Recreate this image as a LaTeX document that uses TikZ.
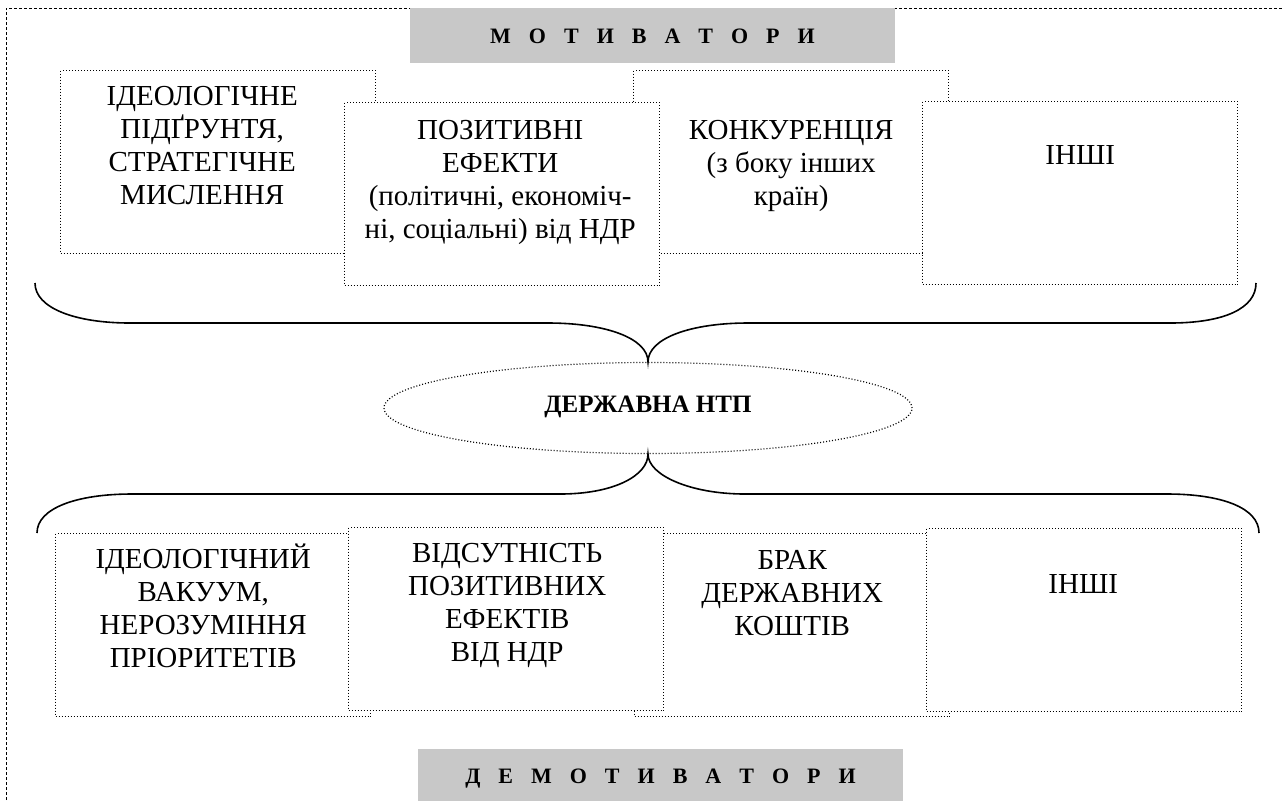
\documentclass[tikz,border=0pt]{standalone}
\usepackage{fontspec}
\setmainfont{Liberation Serif}
\usetikzlibrary{shapes.geometric,calc}
\definecolor{hdrgray}{RGB}{200,200,200}
\newcommand\mlines[1]{\begin{tabular}[t]{@{}c@{}}#1\end{tabular}}
\newcommand\lsp{\hspace{9pt}}
\begin{document}
\begin{tikzpicture}[x=0.5pt,y=-0.5pt,
  frame/.style={line width=0.5pt, dash pattern=on 1.5pt off 1pt},
  dotbox/.style={draw, fill=white, line width=0.7pt, dash pattern=on 0.5pt off 1pt,
    minimum width=157.5pt, minimum height=91.5pt, inner sep=0pt, anchor=north west},
  txt/.style={anchor=base, inner sep=0pt, font=\fontsize{14.5pt}{16.5pt}\selectfont},
  hdr/.style={fill=hdrgray, minimum width=242.5pt, minimum height=27.5pt, inner sep=0pt,
    font=\fontsize{11pt}{13pt}\selectfont\bfseries, text height=7.5pt, text depth=0pt},
  brace/.style={line width=0.8pt},
  oval/.style={ellipse, draw, fill=white, line width=0.6pt, dash pattern=on 0.5pt off 1pt,
    minimum width=264pt, minimum height=45.5pt, inner sep=0pt,
    font=\fontsize{12.5pt}{14pt}\selectfont\bfseries, text height=8pt, text depth=4pt}
]
\useasboundingbox (0,0) rectangle (1284,800);
\clip (0,0) rectangle (1284,800);

% outer frame
\draw[frame] (6,815) -- (6,8) -- (1300,8);

% headings
\node[hdr] (mot) at (652.5,35.5) {М\lsp О\lsp Т\lsp И\lsp В\lsp А\lsp Т\lsp О\lsp Р\lsp И};
\node[hdr] (dem) at (660.5,776) {Д\lsp Е\lsp М\lsp О\lsp Т\lsp И\lsp В\lsp А\lsp Т\lsp О\lsp Р\lsp И};

% top row boxes
\node[dotbox] (b1) at (60,70) {};
\node[dotbox] (b3) at (633,70) {};
\node[dotbox] (b2) at (344,102) {};
\node[dotbox] (b4) at (922,101) {};

% bottom row boxes
\node[dotbox] (b5) at (55,533) {};
\node[dotbox] (b7) at (634,533) {};
\node[dotbox] (b6) at (348,527) {};
\node[dotbox] (b8) at (926,528) {};

% texts top
\node[txt] (t1) at ($(b1.north)+(-16,35)$) {\mlines{ІДЕОЛОГІЧНЕ\\ПІДҐРУНТЯ,\\СТРАТЕГІЧНЕ\\МИСЛЕННЯ}};
\node[txt] (t2) at ($(b2.north)+(-2,37)$) {\mlines{ПОЗИТИВНІ\\ЕФЕКТИ\\(політичні, економіч-\\ні, соціальні) від НДР}};
\node[txt] (t3) at ($(b3.north)+(0,69)$) {\mlines{КОНКУРЕНЦІЯ\\(з боку інших\\країн)}};
\node[txt] (t4) at ($(b4.north)+(0,63)$) {ІНШІ};

% texts bottom
\node[txt] (t5) at ($(b5.north)+(-10,35)$) {\mlines{ІДЕОЛОГІЧНИЙ\\ВАКУУМ,\\НЕРОЗУМІННЯ\\ПРІОРИТЕТІВ}};
\node[txt] (t6) at ($(b6.north)+(1,35)$) {\mlines{ВІДСУТНІСТЬ\\ПОЗИТИВНИХ\\ЕФЕКТІВ\\ВІД НДР}};
\node[txt] (t7) at ($(b7.north)+(0,36)$) {\mlines{БРАК\\ДЕРЖАВНИХ\\КОШТІВ}};
\node[txt] (t8) at ($(b8.north)+(-1,65)$) {ІНШІ};

% central ellipse
\node[oval] (ntp) at (648,408) {ДЕРЖАВНА НТП};

% braces
\draw[brace] (35,283) .. controls (35,308) and (75,323) .. (130,323) -- (548,323)
  .. controls (605,323) and (648,338) .. (ntp.north)
  .. controls (648,338) and (691,323) .. (748,323) -- (1170,323)
  .. controls (1225,323) and (1256,308) .. (1256,283);
\draw[brace] (37,533) .. controls (37,508) and (77,494) .. (132,494) -- (560,494)
  .. controls (615,494) and (648,475) .. (ntp.south)
  .. controls (648,475) and (690,494) .. (745,494) -- (1167,494)
  .. controls (1222,494) and (1259,508) .. (1259,533);
\end{tikzpicture}
\end{document}
